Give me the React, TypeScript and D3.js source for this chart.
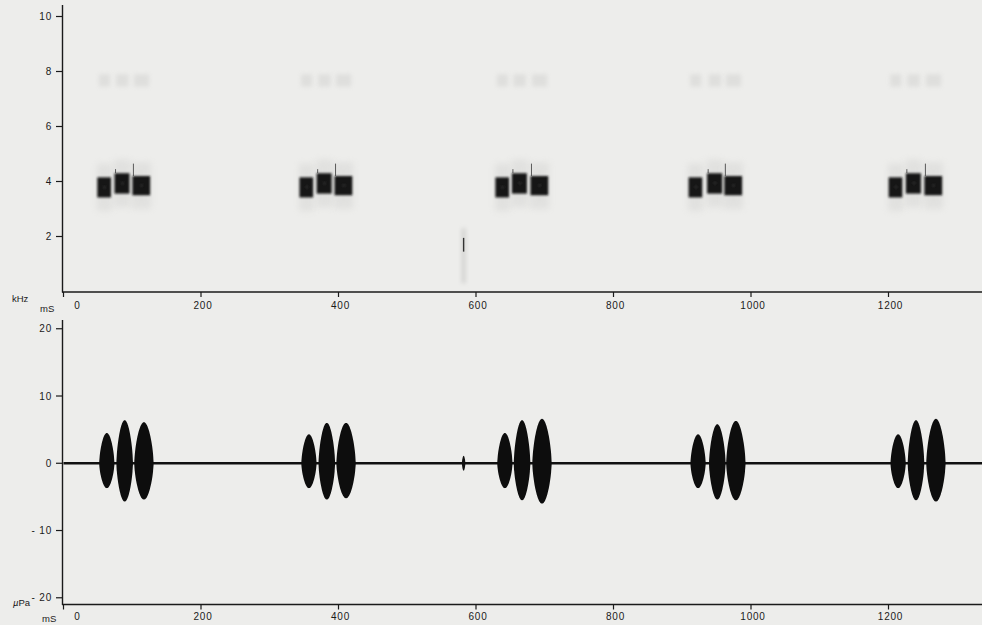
import React from "react";
import * as d3 from "d3";

// ---- data ----
const pulseTimes = [63, 89, 117, 357, 383, 411, 642, 667, 696, 923, 951, 978, 1214, 1240, 1269]; // ms
const pulseDur = [22, 24, 28, 22, 24, 28, 22, 24, 28, 22, 24, 28, 22, 24, 28]; // ms
const ampUp = [4.5, 6.4, 6.1, 4.3, 6.0, 6.0, 4.5, 6.4, 6.6, 4.3, 5.8, 6.3, 4.3, 6.4, 6.6]; // µPa
const ampDown = [-3.7, -5.7, -5.4, -3.7, -5.4, -5.2, -3.7, -5.5, -6.0, -3.7, -5.4, -5.5, -3.7, -5.5, -5.7];
const bandLow = [3.42, 3.56, 3.5, 3.42, 3.56, 3.5, 3.42, 3.56, 3.5, 3.42, 3.56, 3.5, 3.42, 3.56, 3.5]; // kHz
const bandHigh = [4.15, 4.3, 4.2, 4.15, 4.3, 4.2, 4.15, 4.3, 4.2, 4.15, 4.3, 4.2, 4.15, 4.3, 4.2];
const spikeTop = [0, 4.45, 4.65, 0, 4.45, 4.65, 0, 4.45, 4.65, 0, 4.45, 4.65, 0, 4.45, 4.65];
const harmonicLow = 7.45;
const harmonicHigh = 7.9;
const blipTime = 582; // ms
const blipAmp = 1.1; // µPa
const blipFreq = [1.45, 1.95]; // kHz
const timeTicks = [0, 200, 400, 600, 800, 1000, 1200];
const freqTicks = [2, 4, 6, 8, 10];
const ampTicks = [-20, -10, 0, 10, 20];
const timeMax = 1336;

const W = 982;
const H = 625;
const INK = "#1a1a1a";
const BG = "#ededeb";
const FONT = "'Liberation Sans', Arial, Helvetica, sans-serif";
const SPEC_SHIFT = -3.5; // ms, spectrogram frames lag

export default function App() {
  const x = d3.scaleLinear().domain([0, timeMax]).range([63.5, 982]);
  const fy = d3.scaleLinear().domain([0, 10.4]).range([291.5, 5.5]);
  const ay = d3.scaleLinear().domain([-21, 21.3]).range([604.5, 320]);

  // spindle envelope shape for a pulse
  const N = 40;
  const us = d3.range(N + 1).map((i) => i / N);
  const prof = (u: number) => Math.pow(Math.sin(Math.PI * u), 0.6);

  const pulsePath = (i: number) => {
    const t0 = pulseTimes[i] - pulseDur[i] / 2;
    const a = d3
      .area<number>()
      .x((u) => x(t0 + u * pulseDur[i]))
      .y0((u) => ay(Math.min(-0.25, ampDown[i] * prof(u))))
      .y1((u) => ay(Math.max(0.25, ampUp[i] * prof(u))))
      .curve(d3.curveCatmullRom);
    return a(us) || "";
  };

  const blipPath = (() => {
    const a = d3
      .area<number>()
      .x((u) => x(blipTime - 2.5 + u * 5))
      .y0((u) => ay(-blipAmp * prof(u)))
      .y1((u) => ay(blipAmp * prof(u)));
    return a(us) || "";
  })();

  const bx0 = (i: number) => x(pulseTimes[i] - pulseDur[i] / 2 + SPEC_SHIFT);
  const bx1 = (i: number) => x(pulseTimes[i] + pulseDur[i] / 2 + SPEC_SHIFT);

  const tickLabelStyle = { fontFamily: FONT, fontSize: 10, fill: INK, letterSpacing: 0.8 } as const;

  const xAxis = (axisY: number, labelY: number) => (
    <g>
      <line x1={62} x2={W} y1={axisY} y2={axisY} stroke={INK} strokeWidth={1.4} />
      {timeTicks.map((t) => (
        <g key={t}>
          <line x1={x(t)} x2={x(t)} y1={axisY} y2={axisY + 5} stroke={INK} strokeWidth={1.2} />
          <text
            x={t === 0 ? x(t) + 14 : x(t) + 2}
            y={labelY}
            textAnchor="middle"
            style={tickLabelStyle}
          >
            {t}
          </text>
        </g>
      ))}
    </g>
  );

  return (
    <svg
      width={W}
      height={H}
      viewBox={`0 0 ${W} ${H}`}
      style={{ position: "absolute", left: 0, top: 0, background: BG }}
    >
      <defs>
        <filter id="blurCore" x="-50%" y="-50%" width="200%" height="200%">
          <feGaussianBlur stdDeviation="0.9" />
        </filter>
        <filter id="blurHalo" x="-80%" y="-80%" width="260%" height="260%">
          <feGaussianBlur stdDeviation="3" />
        </filter>
        <filter id="blurSoft" x="-80%" y="-80%" width="260%" height="260%">
          <feGaussianBlur stdDeviation="2.2" />
        </filter>
      </defs>
      <rect x={0} y={0} width={W} height={H} fill={BG} />

      {/* ---------- spectrogram ---------- */}
      <g>
        {/* faint harmonics */}
        {pulseTimes.map((t, i) => (
          <rect
            key={"h" + i}
            x={bx0(i) + 2}
            y={fy(harmonicHigh)}
            width={bx1(i) - bx0(i) - 4}
            height={fy(harmonicLow) - fy(harmonicHigh)}
            fill="#c4c4c2"
            opacity={0.35}
            filter="url(#blurSoft)"
          />
        ))}
        {/* halos */}
        {pulseTimes.map((t, i) => (
          <rect
            key={"halo" + i}
            x={bx0(i)}
            y={fy(bandHigh[i] + 0.5)}
            width={bx1(i) - bx0(i)}
            height={fy(bandLow[i] - 0.5) - fy(bandHigh[i] + 0.5)}
            fill="#cfcfcd"
            opacity={0.4}
            filter="url(#blurHalo)"
          />
        ))}
        {/* cores */}
        {pulseTimes.map((t, i) => (
          <rect
            key={"core" + i}
            x={bx0(i) + 0.5}
            y={fy(bandHigh[i])}
            width={bx1(i) - bx0(i) - 1.5}
            height={fy(bandLow[i]) - fy(bandHigh[i])}
            fill="#141414"
            filter="url(#blurCore)"
          />
        ))}
        {/* lighter specks inside blocks */}
        {pulseTimes.map((t, i) => (
          <rect
            key={"sp" + i}
            x={(bx0(i) + bx1(i)) / 2 - 1}
            y={fy((bandHigh[i] + bandLow[i]) / 2) - 1.5}
            width={2.5}
            height={2.5}
            fill="#2e2e2e"
            filter="url(#blurCore)"
          />
        ))}
        {/* spikes */}
        {pulseTimes.map((t, i) =>
          spikeTop[i] > 0 ? (
            <line
              key={"spk" + i}
              x1={bx0(i) + 1.5}
              x2={bx0(i) + 1.5}
              y1={fy(bandHigh[i])}
              y2={fy(spikeTop[i])}
              stroke="#4a4a4a"
              strokeWidth={0.9}
            />
          ) : null
        )}
        {/* blip */}
        <rect
          x={x(blipTime) - 2}
          y={fy(2.3)}
          width={4}
          height={fy(0.3) - fy(2.3)}
          fill="#d2d2d0"
          filter="url(#blurSoft)"
        />
        <line
          x1={x(blipTime)}
          x2={x(blipTime)}
          y1={fy(blipFreq[1])}
          y2={fy(blipFreq[0])}
          stroke="#333"
          strokeWidth={1.4}
        />
      </g>

      {/* top axes */}
      <line x1={62.5} x2={62.5} y1={5} y2={292.5} stroke={INK} strokeWidth={1.4} />
      {freqTicks.map((f) => (
        <g key={f}>
          <line x1={56} x2={62.5} y1={fy(f)} y2={fy(f)} stroke={INK} strokeWidth={1.2} />
          <text x={52} y={fy(f) + 3.5} textAnchor="end" style={tickLabelStyle}>
            {f}
          </text>
        </g>
      ))}
      {xAxis(292, 309)}
      <text x={12} y={302} style={{ fontFamily: FONT, fontSize: 9.5, fill: INK }}>
        kHz
      </text>
      <text x={40} y={312} style={{ fontFamily: FONT, fontSize: 9.5, fill: INK }}>
        mS
      </text>

      {/* ---------- waveform ---------- */}
      <line x1={x(0)} x2={W} y1={ay(0)} y2={ay(0)} stroke="#111" strokeWidth={2.6} />
      {pulseTimes.map((t, i) => (
        <path key={"p" + i} d={pulsePath(i)} fill="#0d0d0d" />
      ))}
      <path d={blipPath} fill="#111" />

      <line x1={62.5} x2={62.5} y1={320} y2={605} stroke={INK} strokeWidth={1.4} />
      {ampTicks.map((a) => (
        <g key={a}>
          <line x1={56} x2={62.5} y1={ay(a)} y2={ay(a)} stroke={INK} strokeWidth={1.2} />
          <text x={52} y={ay(a) + 3.5} textAnchor="end" style={tickLabelStyle}>
            {a < 0 ? "- " + Math.abs(a) : a}
          </text>
        </g>
      ))}
      {xAxis(604.5, 620)}
      <text x={13} y={606} style={{ fontFamily: FONT, fontSize: 9.5, fill: INK }}>
        <tspan fontStyle="italic">µ</tspan>Pa
      </text>
      <text x={42} y={622} style={{ fontFamily: FONT, fontSize: 9.5, fill: INK }}>
        mS
      </text>
    </svg>
  );
}
